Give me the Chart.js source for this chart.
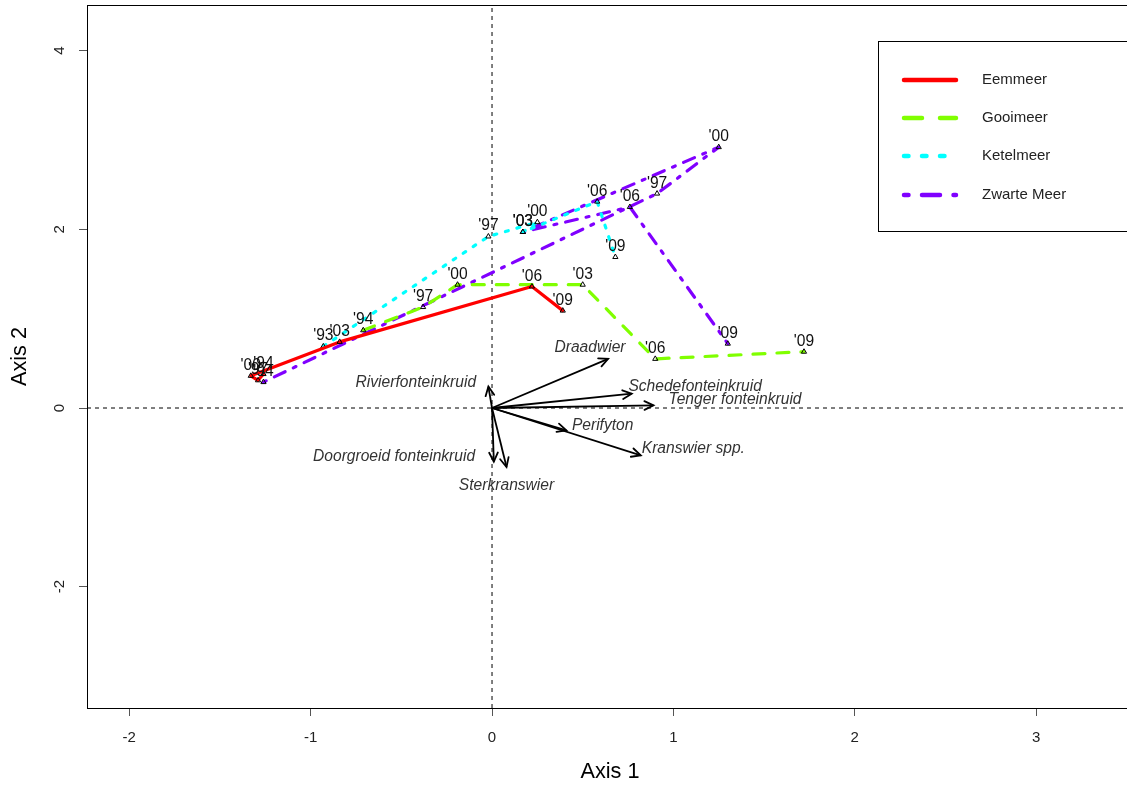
<!DOCTYPE html>
<html>
<head>
<meta charset="utf-8">
<script src="https://cdn.jsdelivr.net/npm/chart.js@4.4.1/dist/chart.umd.min.js"></script>
<style>
  html, body { margin: 0; padding: 0; background: #fff; overflow: hidden; }
  #wrap { width: 1140px; height: 785px; }
</style>
</head>
<body>
<div id="wrap"><canvas id="ord" width="1140" height="785" style="width:1140px;height:785px"></canvas></div>
<script>
// lake trajectories (site scores per survey year)
const lakeNames = ["Eemmeer", "Gooimeer", "Ketelmeer", "Zwarte Meer"];

const eemYears = ["'94", "'97", "'00", "'03", "'06", "'09"];
const eemX = [-1.26, -1.29, -1.33, -0.84, 0.22, 0.39];
const eemY = [0.38, 0.31, 0.36, 0.74, 1.36, 1.09];

const gooYears = ["'94", "'97", "'00", "'03", "'06", "'09"];
const gooX = [-0.71, -0.38, -0.19, 0.50, 0.90, 1.72];
const gooY = [0.87, 1.13, 1.38, 1.38, 0.55, 0.63];

const ketYears = ["'93", "'97", "'00", "'03", "'06", "'09"];
const ketX = [-0.93, -0.02, 0.25, 0.17, 0.58, 0.68];
const ketY = [0.69, 1.92, 2.08, 1.97, 2.31, 1.69];

const zwaYears = ["'94", "'97", "'00", "'03", "'06", "'09"];
const zwaX = [-1.26, 0.91, 1.25, 0.17, 0.76, 1.30];
const zwaY = [0.29, 2.40, 2.92, 1.97, 2.25, 0.72];

// species vectors
const spNames = ["Draadwier", "Rivierfonteinkruid", "Schedefonteinkruid", "Tenger fonteinkruid",
                 "Perifyton", "Kranswier spp.", "Doorgroeid fonteinkruid", "Sterkranswier"];
const spX = [0.64, -0.02, 0.77, 0.89, 0.41, 0.82, 0.01, 0.08];
const spY = [0.55, 0.24, 0.16, 0.03, -0.25, -0.53, -0.60, -0.66];
const spLabX = [0.54, -0.42, 1.12, 1.34, 0.61, 1.11, -0.54, 0.08];
const spLabY = [0.68, 0.28, 0.24, 0.09, -0.20, -0.46, -0.55, -0.87];

const xTicks = [-2, -1, 0, 1, 2, 3];
const yTicks = [-2, 0, 2, 4];
const xMin = -2.233, xMax = 3.545;
const yMin = -3.358, yMax = 4.511;

const lakeColors = ["#FF0000", "#80FF00", "#00FFFF", "#8000FF"];
const lakeDash = [[], [12, 12], [3, 9], [3, 9, 12, 9]];
const legendDash = [[], [18, 18], [4.5, 13.5], [4.5, 13.5, 18, 13.5]];

const FONT = '"Liberation Sans", Arial, Helvetica, sans-serif';

function pts(xs, ys) {
    return xs.map((v, i) => ({ x: v, y: ys[i] }));
}

const lakeX = [eemX, gooX, ketX, zwaX];
const lakeY = [eemY, gooY, ketY, zwaY];
const lakeYears = [eemYears, gooYears, ketYears, zwaYears];

var datasets = [];
for (var i = 0; i < lakeNames.length; i++) {
    datasets.push({
        label: lakeNames[i],
        years: lakeYears[i],
        data: pts(lakeX[i], lakeY[i]),
        showLine: true,
        borderColor: lakeColors[i],
        borderWidth: 3.2,
        borderDash: lakeDash[i],
        borderCapStyle: "round",
        borderJoinStyle: "round",
        pointStyle: "triangle",
        pointRadius: 3,
        pointBorderWidth: 1,
        pointBorderColor: "#000",
        pointBackgroundColor: "rgba(255,255,255,0)",
        order: i
    });
}
// species arrows (shafts; heads drawn by plugin)
for (var k = 0; k < spNames.length; k++) {
    datasets.push({
        label: spNames[k],
        data: [{ x: 0, y: 0 }, { x: spX[k], y: spY[k] }],
        showLine: true,
        borderColor: "#000",
        borderWidth: 1.8,
        pointRadius: 0,
        order: 5
    });
}
// dashed zero lines
datasets.push({
    data: [{ x: 0, y: yMin }, { x: 0, y: yMax }],
    showLine: true, borderColor: "#000", borderWidth: 1, borderDash: [4, 4], pointRadius: 0, order: 10
});
datasets.push({
    data: [{ x: xMin, y: 0 }, { x: xMax, y: 0 }],
    showLine: true, borderColor: "#000", borderWidth: 1, borderDash: [4, 4], pointRadius: 0, order: 10
});

const decor = {
    id: "decor",
    afterDatasetsDraw(chart) {
        const ctx = chart.ctx;
        const xs = chart.scales.x, ys = chart.scales.y;
        ctx.save();
        // arrow heads and species names
        const x0 = xs.getPixelForValue(0), y0 = ys.getPixelForValue(0);
        ctx.strokeStyle = "#000";
        ctx.lineWidth = 1.8;
        ctx.lineCap = "round";
        for (var i = 0; i < spNames.length; i++) {
            const x1 = xs.getPixelForValue(spX[i]), y1 = ys.getPixelForValue(spY[i]);
            const a = Math.atan2(y1 - y0, x1 - x0);
            ctx.beginPath();
            ctx.moveTo(x1 - 10 * Math.cos(a - 0.45), y1 - 10 * Math.sin(a - 0.45));
            ctx.lineTo(x1, y1);
            ctx.lineTo(x1 - 10 * Math.cos(a + 0.45), y1 - 10 * Math.sin(a + 0.45));
            ctx.stroke();
        }
        ctx.fillStyle = "#333";
        ctx.font = "italic 15.6px " + FONT;
        ctx.textAlign = "center";
        ctx.textBaseline = "middle";
        for (var j = 0; j < spNames.length; j++) {
            ctx.fillText(spNames[j], xs.getPixelForValue(spLabX[j]), ys.getPixelForValue(spLabY[j]));
        }
        // year labels above the points
        ctx.fillStyle = "#111";
        ctx.font = "15.6px " + FONT;
        ctx.textBaseline = "alphabetic";
        chart.data.datasets.forEach((ds, di) => {
            if (!ds.years) return;
            const meta = chart.getDatasetMeta(di);
            meta.data.forEach((p, n) => ctx.fillText(ds.years[n], p.x, p.y - 6));
        });
        ctx.restore();
    },
    afterDraw(chart) {
        const ctx = chart.ctx;
        const ca = chart.chartArea;
        const ys = chart.scales.y;
        ctx.save();
        // plot box
        ctx.strokeStyle = "#000";
        ctx.lineWidth = 1;
        ctx.strokeRect(ca.left + 0.5, ca.top + 0.5, ca.right - ca.left, ca.bottom - ca.top);
        // y tick labels, rotated like R
        ctx.fillStyle = "#222";
        ctx.font = "15px " + FONT;
        ctx.textAlign = "center";
        ctx.textBaseline = "middle";
        yTicks.forEach(v => {
            ctx.save();
            ctx.translate(60, ys.getPixelForValue(v));
            ctx.rotate(-Math.PI / 2);
            ctx.fillText(String(v), 0, 0);
            ctx.restore();
        });
        // axis titles
        ctx.fillStyle = "#000";
        ctx.font = "21.7px " + FONT;
        ctx.fillText("Axis 1", 610, 772);
        ctx.save();
        ctx.translate(20, (ca.top + ca.bottom) / 2);
        ctx.rotate(-Math.PI / 2);
        ctx.fillText("Axis 2", 0, 0);
        ctx.restore();
        // legend
        ctx.fillStyle = "#fff";
        ctx.fillRect(878.5, 41.5, 300, 190);
        ctx.strokeRect(878.5, 41.5, 300, 190);
        const rows = [80, 118, 156, 195];
        ctx.textAlign = "left";
        ctx.font = "15px " + FONT;
        for (var i = 0; i < lakeNames.length; i++) {
            ctx.beginPath();
            ctx.strokeStyle = lakeColors[i];
            ctx.lineWidth = 4.5;
            ctx.lineCap = "round";
            ctx.setLineDash(legendDash[i]);
            ctx.moveTo(904, rows[i]);
            ctx.lineTo(956, rows[i]);
            ctx.stroke();
            ctx.setLineDash([]);
            ctx.fillStyle = "#222";
            ctx.fillText(lakeNames[i], 982, rows[i]);
        }
        ctx.restore();
    }
};

const ctx = document.getElementById("ord").getContext("2d");
const graph = new Chart(ctx, {
    type: "scatter",
    data: { datasets: datasets },
    options: {
        responsive: false,
        animation: false,
        devicePixelRatio: 1,
        layout: { padding: { left: 0, top: 5, right: 5, bottom: 0 } },
        plugins: { legend: { display: false }, tooltip: { enabled: false } },
        scales: {
            x: {
                type: "linear",
                min: xMin, max: xMax,
                afterFit: s => { s.height = 77; },
                afterBuildTicks: s => { s.ticks = xTicks.map(v => ({ value: v })); },
                grid: { drawOnChartArea: false, drawTicks: true, tickLength: 8, color: "#555" },
                border: { display: false },
                ticks: { color: "#222", font: { family: FONT, size: 15 }, padding: 13, maxRotation: 0 }
            },
            y: {
                type: "linear",
                min: yMin, max: yMax,
                afterFit: s => { s.width = 87; },
                afterBuildTicks: s => { s.ticks = yTicks.map(v => ({ value: v })); },
                grid: { drawOnChartArea: false, drawTicks: true, tickLength: 8, color: "#555" },
                border: { display: false },
                ticks: { display: false }
            }
        }
    },
    plugins: [decor]
});
</script>
</body>
</html>
